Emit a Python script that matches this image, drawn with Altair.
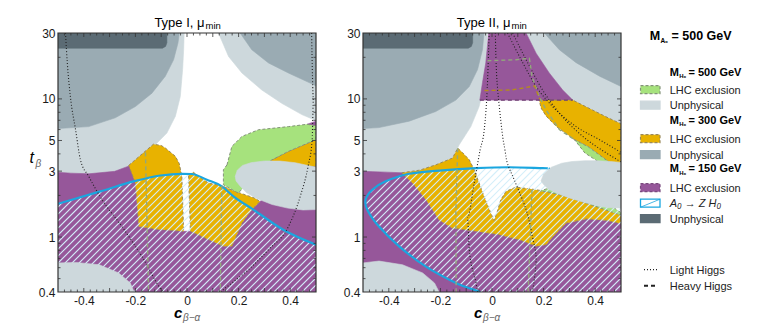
import math
import altair as alt
import pandas as pd

# ---------------------------------------------------------------- layout
W, H = 258, 259
FONT = "Liberation Sans"

# ---------------------------------------------------------------- axes
X_DOMAIN = [-0.5, 0.5]
Y_DOMAIN = [0.4, 30]
X_LABELS = [-0.4, -0.2, 0.0, 0.2, 0.4]
Y_LABELS = [0.4, 1, 3, 5, 10, 30]
X_TICKS_MAJOR = [-0.4, -0.3, -0.2, -0.1, 0.0, 0.1, 0.2, 0.3, 0.4]
X_TICKS_MINOR = [-0.475, -0.45, -0.425, -0.375, -0.35, -0.325, -0.275, -0.25, -0.225,
                 -0.175, -0.15, -0.125, -0.075, -0.05, -0.025, 0.025, 0.05, 0.075,
                 0.125, 0.15, 0.175, 0.225, 0.25, 0.275, 0.325, 0.35, 0.375,
                 0.425, 0.45, 0.475]
Y_TICKS_MAJOR = [1, 3, 5, 10]
Y_TICKS_MINOR = [0.5, 0.6, 0.7, 0.8, 0.9, 2, 4, 6, 7, 8, 9, 20]

# ---------------------------------------------------------------- colours
C_L500 = "#cdd8dc"
C_M300 = "#9aabb3"
C_D150 = "#5b6b74"
C_PUR = "#96579a"
C_ORA = "#e8b200"
C_GRN = "#a6e27d"
C_CYAN = "#1aa6df"
C_HATCH = "#d4eef9"
S_ORA = "#9a8a5c"
S_GRN = "#84937a"
S_PUR = "#6f3f73"
S_HEAVY_G = "#92a87c"
S_HEAVY_O = "#b48c1c"

# ================================================================ Type I
P1_L500_LEFT_C = [-0.5, -0.011, -0.013, -0.017, -0.026, -0.045, -0.078, -0.123, -0.17, -0.22, -0.28, -0.38, -0.45, -0.5]
P1_L500_LEFT_T = [30, 30, 22.7, 16.3, 10.4, 7.5, 5.66, 4.66, 3.9, 3.3, 2.99, 2.87, 2.9, 2.94]
P1_L500_RIGHT_C = [0.122, 0.161, 0.213, 0.29, 0.367, 0.445, 0.49, 0.5, 0.5]
P1_L500_RIGHT_T = [30, 20.3, 15.4, 11.6, 9.3, 7.7, 7.1, 7.0, 30]
P1_M300_LEFT_C = [-0.5, -0.03, -0.035, -0.052, -0.084, -0.136, -0.2, -0.278, -0.381, -0.5]
P1_M300_LEFT_T = [30, 30, 25.4, 19.2, 14.6, 11.0, 8.8, 7.3, 6.3, 6.1]
P1_M300_RIGHT_C = [0.206, 0.251, 0.316, 0.393, 0.49, 0.5, 0.5]
P1_M300_RIGHT_T = [30, 22.7, 18.2, 15.4, 12.7, 12.4, 30]
P1_D150_C = [-0.5, -0.078, -0.078, -0.083, -0.095, -0.5]
P1_D150_T = [30, 30, 25.5, 24.0, 23.3, 23.3]
P1_PUR_C = [-0.5, -0.5, -0.45, -0.38, -0.28, -0.219, -0.2, -0.187, -0.123, -0.013, 0.013, 0.141, 0.174, 0.213, 0.251, 0.283, 0.35, 0.42, 0.5, 0.5]
P1_PUR_T = [0.4, 2.94, 2.9, 2.87, 2.99, 3.3, 2.46, 1.19, 1.14, 1.10, 1.10, 0.857, 0.857, 1.26, 1.58, 1.81, 2.3, 2.9, 3.3, 0.4]
P1_PUR_TIP_C = [0.465, 0.5, 0.5]
P1_PUR_TIP_T = [6.55, 6.9, 5.4]
P1_ORA_A_C = [-0.226, -0.13, -0.1, -0.084, -0.045, -0.03, -0.02, -0.013, -0.123, -0.187, -0.2]
P1_ORA_A_T = [3.3, 4.7, 4.6, 4.41, 3.84, 3.4, 2.75, 1.10, 1.14, 1.19, 2.46]
P1_ORA_B_C = [0.006, 0.025, 0.045, 0.083, 0.135, 0.187, 0.264, 0.283, 0.251, 0.213, 0.174, 0.141, 0.013]
P1_ORA_B_T = [2.83, 2.94, 2.75, 2.46, 2.35, 2.14, 1.91, 1.81, 1.58, 1.26, 0.857, 0.857, 1.10]
P1_ORA_C_C = [0.3, 0.329, 0.393, 0.49, 0.5, 0.5, 0.41, 0.3]
P1_ORA_C_T = [3.4, 3.62, 4.17, 4.98, 5.05, 3.24, 3.2, 3.1]
P1_GRN_C = [0.155, 0.174, 0.213, 0.277, 0.393, 0.465, 0.5, 0.5, 0.49, 0.393, 0.329, 0.28, 0.22, 0.199, 0.141, 0.141]
P1_GRN_T = [3.33, 4.53, 5.35, 5.98, 6.3, 6.55, 6.4, 5.05, 4.98, 4.17, 3.62, 3.2, 2.3, 2.08, 2.39, 3.07]
P1_ELL_C = [0.187, 0.195, 0.215, 0.25, 0.3, 0.36, 0.42, 0.5, 0.5, 0.45, 0.39, 0.33, 0.27, 0.23, 0.205, 0.19]
P1_ELL_T = [2.75, 3.05, 3.3, 3.46, 3.55, 3.55, 3.45, 3.2, 1.58, 1.57, 1.62, 1.72, 1.9, 2.1, 2.35, 2.55]
P1_BL_C = [-0.5, -0.43, -0.34, -0.265, -0.22, -0.205, -0.5]
P1_BL_T = [0.65, 0.655, 0.63, 0.55, 0.465, 0.4, 0.4]
P1_CYAN_C = [-0.5, -0.336, -0.207, -0.103, -0.019, 0.018, 0.077, 0.135, 0.18, 0.257, 0.373, 0.5]
P1_CYAN_T = [1.74, 2.14, 2.53, 2.79, 2.87, 2.86, 2.6, 2.33, 1.97, 1.58, 1.13, 0.88]
P1_DOT_L_C = [-0.471, -0.464, -0.452, -0.432, -0.413, -0.381, -0.329, -0.252, -0.174, -0.097, -0.092]
P1_DOT_L_T = [30, 18.3, 10.4, 6, 3.62, 2.75, 1.86, 1.19, 0.72, 0.41, 0.4]
P1_DOT_R_C = [0.483, 0.49, 0.485, 0.47, 0.44, 0.393, 0.316, 0.238, 0.174, 0.129]
P1_DOT_R_T = [30, 10, 5, 3.3, 2.0, 1.19, 0.81, 0.58, 0.465, 0.4]
P1_DASH_A_C = [-0.161, -0.149]
P1_DASH_A_T = [4.1, 0.4]
P1_DASH_B_C = [0.135, 0.129]
P1_DASH_B_T = [2.35, 0.4]

# ================================================================ Type II
P2_L500_LEFT_C = [-0.5, -0.018, -0.022, -0.031, -0.05, -0.082, -0.127, -0.153, -0.218, -0.28, -0.35, -0.41, -0.5]
P2_L500_LEFT_T = [30, 30, 18.3, 12.3, 8.8, 6.3, 4.66, 3.73, 3.33, 3.05, 2.92, 2.95, 2.99]
P2_L500_RIGHT_C = [0.132, 0.171, 0.222, 0.274, 0.313, 0.39, 0.45, 0.5, 0.5]
P2_L500_RIGHT_T = [30, 21.4, 15.4, 11.6, 9.8, 8.3, 7.3, 6.6, 30]
P2_M300_LEFT_C = [-0.5, -0.031, -0.037, -0.056, -0.088, -0.14, -0.218, -0.321, -0.438, -0.5]
P2_M300_LEFT_T = [30, 30, 22.7, 16.3, 12.3, 9.8, 8.1, 6.9, 6.2, 6.1]
P2_M300_RIGHT_C = [0.203, 0.261, 0.326, 0.417, 0.5, 0.5]
P2_M300_RIGHT_T = [30, 22.7, 18.3, 14.6, 12.3, 30]
P2_D150_C = [-0.5, -0.075, -0.075, -0.08, -0.092, -0.5]
P2_D150_T = [30, 30, 25.5, 24.0, 23.3, 23.3]
P2_PUR_TOP_C = [-0.013, 0.132, 0.171, 0.222, 0.274, 0.313, -0.047, -0.037, -0.024]
P2_PUR_TOP_T = [30, 30, 21.4, 15.4, 11.6, 9.8, 9.8, 13.1, 18.3]
P2_PUR_EDGE_C = [-0.047, 0.313]
P2_PUR_EDGE_T = [9.8, 9.8]
P2_PUR_C = [-0.5, -0.5, -0.41, -0.35, -0.308, -0.256, -0.205, -0.153, -0.062, 0.028, 0.106, 0.171, 0.21, 0.235, 0.287, 0.365, 0.443, 0.5, 0.5]
P2_PUR_T = [0.4, 2.99, 2.95, 2.92, 2.46, 1.86, 1.33, 1.16, 1.10, 1.04, 0.955, 0.857, 0.88, 1.0, 1.26, 1.35, 1.32, 1.25, 0.4]
P2_ORA_C = [-0.35, -0.28, -0.218, -0.153, -0.133, -0.115, -0.088, -0.069, -0.05, -0.031, -0.005, 0.008, 0.021, 0.034, 0.054, 0.093, 0.157, 0.21, 0.287, 0.39, 0.5, 0.5, 0.443, 0.365, 0.287, 0.235, 0.21, 0.171, 0.106, 0.028, -0.062, -0.153, -0.205, -0.256, -0.308]
P2_ORA_T = [2.92, 3.05, 3.33, 3.73, 4.4, 4.1, 3.62, 3.07, 2.46, 1.97, 1.5, 1.32, 1.54, 1.86, 2.14, 2.3, 2.22, 2.14, 1.97, 1.7, 1.44, 1.25, 1.32, 1.35, 1.26, 1.0, 0.88, 0.857, 0.955, 1.04, 1.10, 1.16, 1.33, 1.86, 2.46]
P2_ORA_BAND_C = [0.183, 0.313, 0.39, 0.45, 0.5, 0.5, 0.45, 0.373, 0.32, 0.25, 0.21, 0.19]
P2_ORA_BAND_T = [9.8, 9.8, 8.3, 7.3, 6.6, 3.15, 3.53, 4.5, 5.06, 6.3, 7.5, 8.6]
P2_GRN_UP_C = [0.32, 0.373, 0.45, 0.5, 0.5, 0.45, 0.41, 0.36]
P2_GRN_UP_T = [5.06, 4.5, 3.53, 3.15, 2.95, 3.07, 3.53, 4.06]
P2_GRN_LOW_C = [0.183, 0.222, 0.287, 0.39, 0.45, 0.5, 0.5, 0.39, 0.287, 0.21]
P2_GRN_LOW_T = [2.14, 2.27, 2.3, 2.05, 1.75, 1.5, 1.44, 1.7, 1.97, 2.14]
P2_ELL_C = [0.19, 0.2, 0.23, 0.27, 0.31, 0.36, 0.41, 0.46, 0.5, 0.5, 0.45, 0.41, 0.35, 0.3, 0.25, 0.22, 0.2]
P2_ELL_T = [2.55, 2.85, 3.2, 3.42, 3.52, 3.57, 3.57, 3.52, 3.47, 1.62, 1.63, 1.68, 1.8, 1.92, 2.08, 2.22, 2.4]
P2_BL_C = [-0.5, -0.438, -0.347, -0.269, -0.223, -0.205, -0.5]
P2_BL_T = [0.65, 0.67, 0.63, 0.55, 0.465, 0.4, 0.4]
P2_CYAN_C = [0.22, 0.196, 0.067, -0.062, -0.192, -0.321, -0.412, -0.464, -0.49, -0.483, -0.438, -0.36, -0.256, -0.14, -0.062, -0.045]
P2_CYAN_T = [3.15, 3.15, 3.2, 3.15, 3.04, 2.87, 2.53, 2.2, 1.86, 1.57, 1.19, 0.857, 0.61, 0.465, 0.41, 0.4]
P2_DOT_A_C = [-0.011, -0.017, -0.03, -0.046, -0.069, -0.095, -0.088, -0.062, -0.056]
P2_DOT_A_T = [30, 13.8, 6.0, 4.28, 2.46, 1.39, 0.81, 0.465, 0.4]
P2_DOT_B_C = [0.013, 0.019, 0.038, 0.05, 0.06, 0.086, 0.132, 0.157, 0.171, 0.157]
P2_DOT_B_T = [30, 13.8, 6.0, 4.3, 3.4, 2.6, 1.58, 1.0, 0.685, 0.4]
P2_DOT_C_C = [0.06, 0.119, 0.171, 0.235, 0.326, 0.417, 0.5]
P2_DOT_C_T = [30, 18.3, 12.3, 8.8, 6.3, 5.06, 4.1]
P2_DOT_D_C = [0.08, 0.138, 0.196, 0.261, 0.352, 0.443, 0.5]
P2_DOT_D_T = [30, 18.3, 11.6, 7.9, 5.35, 4.06, 3.5]
P2_DASH_A_C = [-0.133, -0.14, -0.139]
P2_DASH_A_T = [4.4, 1.5, 0.4]
P2_DASH_B_C = [0.155, 0.14]
P2_DASH_B_T = [2.2, 0.4]
P2_DASH_G_C = [-0.018, 0.093, 0.145, 0.155, 0.183, 0.21, 0.261, 0.32]
P2_DASH_G_T = [18.9, 19.2, 19.7, 14.6, 10.4, 8.3, 6.0, 5.06]
P2_DASH_O_C = [-0.029, 0.075, 0.165, 0.185]
P2_DASH_O_T = [11.5, 11.6, 12.4, 10.0]

# ================================================================ legend
LEG_TITLE = ("M", "A₀", "= 500 GeV")
LEG_HEADERS = ["= 500 GeV", "= 300 GeV", "= 150 GeV"]
LEG_ITEMS = ["LHC exclusion", "Unphysical", "LHC exclusion", "Unphysical", "LHC exclusion", "A₀ → Z H₀", "Unphysical"]
LEG_ITEM_FILL = [C_GRN, C_L500, C_ORA, C_M300, C_PUR, "#ffffff", C_D150]
LEG_ITEM_STROKE = [S_GRN, C_L500, S_ORA, C_M300, "#7a4a7e", C_CYAN, C_D150]
LEG_LINES = ["Light Higgs", "Heavy Higgs"]
# positions (layout, pixels inside legend panel)
LEG_HEADER_Y = [42.5, 90.5, 139.0]
LEG_ITEM_Y = [56.7, 72.2, 105.7, 121.7, 154.7, 170.2, 185.7]
LEG_LINE_Y = [236.7, 252.7]

# ---------------------------------------------------------------- scales
XS = alt.Scale(domain=X_DOMAIN, nice=False, zero=False)
YS = alt.Scale(type="log", domain=Y_DOMAIN, nice=False)
XAX = alt.Axis(values=X_LABELS, title=None, grid=False, ticks=False, domain=False,
               labelExpr="datum.value == 0 ? '0' : replace(format(datum.value, '.1f'), '\u2212', '-')",
               labelPadding=3, labelFontSize=12, labelColor="#1a1a1a", labelFont=FONT)
YAX = alt.Axis(values=Y_LABELS, title=None, grid=False, ticks=False, domain=False,
               labelExpr="format(datum.value, '~g')", labelPadding=3,
               labelFontSize=12, labelColor="#1a1a1a", labelFont=FONT)


def xy():
    return dict(x=alt.X("c:Q", scale=XS, axis=XAX), y=alt.Y("t:Q", scale=YS, axis=YAX))


def poly(c, t, fill, stroke=None, dash=None, sw=1.0):
    df = pd.DataFrame({"c": c, "t": t, "i": list(range(len(c)))})
    mk = dict(fill=fill, interpolate="linear-closed", clip=True)
    if stroke:
        mk.update(stroke=stroke, strokeWidth=sw, strokeDash=dash or [3, 2])
    else:
        mk.update(stroke=fill, strokeWidth=0.6)
    return alt.Chart(df).mark_line(**mk).encode(order="i:Q", **xy())


def pline(c, t, color, dash=None, sw=1.0, interp="monotone"):
    df = pd.DataFrame({"c": c, "t": t, "i": list(range(len(c)))})
    mk = dict(stroke=color, strokeWidth=sw, clip=True, interpolate=interp)
    if dash:
        mk["strokeDash"] = dash
    return alt.Chart(df).mark_line(**mk).encode(order="i:Q", **xy())


def hatch(c, t, spacing=7.0):
    l0, l1 = math.log10(Y_DOMAIN[0]), math.log10(Y_DOMAIN[1])
    pts = [((ci + 0.5) * W, (math.log10(ti) - l0) / (l1 - l0) * H) for ci, ti in zip(c, t)]
    rows, sid, n = [], 0, len(pts)
    k = -W
    while k < H:
        xs = []
        for j in range(n):
            (u1, v1), (u2, v2) = pts[j], pts[(j + 1) % n]
            f1, f2 = v1 - u1 - k, v2 - u2 - k
            if (f1 > 0) != (f2 > 0):
                s = f1 / (f1 - f2)
                xs.append(u1 + s * (u2 - u1))
        xs.sort()
        for a, b in zip(xs[0::2], xs[1::2]):
            for o, u in enumerate((a, b)):
                v = u + k
                rows.append({"c": u / W - 0.5, "t": 10 ** (l0 + v / H * (l1 - l0)), "g": sid, "i": o})
            sid += 1
        k += spacing
    df = pd.DataFrame(rows)
    return alt.Chart(df).mark_line(stroke=C_HATCH, strokeWidth=1.1, clip=True).encode(
        detail="g:N", order="i:Q", **xy())


def txt(text, x, y, size, color="#000", align="left", style="normal", weight="normal", dy=0):
    return alt.Chart(pd.DataFrame({"a": [0]})).mark_text(
        text=text, align=align, baseline="alphabetic", fontSize=size, fontStyle=style,
        fontWeight=weight, color=color, font=FONT, dy=dy).encode(x=alt.value(x), y=alt.value(y))


def frame_and_ticks():
    lay = []
    for vals, ln in ((Y_TICKS_MAJOR, 4), (Y_TICKS_MINOR, 2.5)):
        df = pd.DataFrame({"t": vals})
        lay.append(alt.Chart(df).mark_rule(color="#333", strokeWidth=0.8).encode(
            y=alt.Y("t:Q", scale=YS, axis=YAX), x=alt.value(0), x2=alt.value(ln)))
        lay.append(alt.Chart(df).mark_rule(color="#333", strokeWidth=0.8).encode(
            y=alt.Y("t:Q", scale=YS, axis=YAX), x=alt.value(W - ln), x2=alt.value(W)))
    for vals, ln in ((X_TICKS_MAJOR, 4), (X_TICKS_MINOR, 2.5)):
        df = pd.DataFrame({"c": vals})
        lay.append(alt.Chart(df).mark_rule(color="#333", strokeWidth=0.8).encode(
            x=alt.X("c:Q", scale=XS, axis=XAX), y=alt.value(0), y2=alt.value(ln)))
        lay.append(alt.Chart(df).mark_rule(color="#333", strokeWidth=0.8).encode(
            x=alt.X("c:Q", scale=XS, axis=XAX), y=alt.value(H - ln), y2=alt.value(H)))
    lay.append(alt.Chart(pd.DataFrame({"a": [0]})).mark_rect(
        fillOpacity=0, stroke="#333", strokeWidth=1.2).encode(
        x=alt.value(0), x2=alt.value(W), y=alt.value(0), y2=alt.value(H)))
    return lay


# ---------------------------------------------------------------- panel 1
p1_layers = [
    poly(P1_L500_LEFT_C, P1_L500_LEFT_T, C_L500),
    poly(P1_L500_RIGHT_C, P1_L500_RIGHT_T, C_L500),
    poly(P1_M300_LEFT_C, P1_M300_LEFT_T, C_M300),
    poly(P1_M300_RIGHT_C, P1_M300_RIGHT_T, C_M300),
    poly(P1_D150_C, P1_D150_T, C_D150),
    poly(P1_PUR_C, P1_PUR_T, C_PUR),
    poly(P1_PUR_TIP_C, P1_PUR_TIP_T, C_PUR),
    poly(P1_ORA_A_C, P1_ORA_A_T, C_ORA, S_ORA),
    poly(P1_ORA_B_C, P1_ORA_B_T, C_ORA, S_ORA),
    poly(P1_ORA_C_C, P1_ORA_C_T, C_ORA, S_ORA),
    poly(P1_GRN_C, P1_GRN_T, C_GRN, S_GRN),
    hatch(P1_CYAN_C + [0.5, -0.5], P1_CYAN_T + [0.4, 0.4]),
    poly(P1_ELL_C, P1_ELL_T, C_L500),
    poly(P1_BL_C, P1_BL_T, C_L500),
    pline(P1_CYAN_C, P1_CYAN_T, C_CYAN, sw=2.2),
    pline(P1_DOT_L_C, P1_DOT_L_T, "#222", dash=[1, 2], sw=1.1),
    pline(P1_DOT_R_C, P1_DOT_R_T, "#222", dash=[1, 2], sw=1.1),
    pline(P1_DASH_A_C, P1_DASH_A_T, S_HEAVY_G, dash=[4, 3], sw=1.4, interp="linear"),
    pline(P1_DASH_B_C, P1_DASH_B_T, S_HEAVY_G, dash=[4, 3], sw=1.4, interp="linear"),
] + frame_and_ticks() + [
    txt("Type I, μ", 146.5, -6.3, 13, align="right"),
    txt("min", 147.5, -3.6, 9.5),
    txt("c", 116, 284.5, 15, style="italic", weight="bold"),
    txt("β−α", 125, 287.5, 10, color="#666", style="italic"),
    txt("t", -28.5, 129.7, 16, style="italic"),
    txt("β", -22.5, 133.5, 10, color="#666", style="italic"),
]
p1 = alt.layer(*p1_layers).properties(width=W, height=H)

# ---------------------------------------------------------------- panel 2
p2_layers = [
    poly(P2_L500_LEFT_C, P2_L500_LEFT_T, C_L500),
    poly(P2_L500_RIGHT_C, P2_L500_RIGHT_T, C_L500),
    poly(P2_M300_LEFT_C, P2_M300_LEFT_T, C_M300),
    poly(P2_M300_RIGHT_C, P2_M300_RIGHT_T, C_M300),
    poly(P2_D150_C, P2_D150_T, C_D150),
    poly(P2_PUR_TOP_C, P2_PUR_TOP_T, C_PUR),
    poly(P2_PUR_C, P2_PUR_T, C_PUR),
    poly(P2_ORA_C, P2_ORA_T, C_ORA, S_ORA),
    poly(P2_ORA_BAND_C, P2_ORA_BAND_T, C_ORA, S_ORA),
    poly(P2_GRN_UP_C, P2_GRN_UP_T, C_GRN, S_GRN),
    poly(P2_GRN_LOW_C, P2_GRN_LOW_T, C_GRN, S_GRN),
    hatch([0.5] + P2_CYAN_C + [0.5], [3.15] + P2_CYAN_T + [0.4]),
    poly(P2_ELL_C, P2_ELL_T, C_L500),
    poly(P2_BL_C, P2_BL_T, C_L500),
    pline(P2_PUR_EDGE_C, P2_PUR_EDGE_T, S_PUR, dash=[4, 3], sw=1.3, interp="linear"),
    pline(P2_CYAN_C, P2_CYAN_T, C_CYAN, sw=2.2, interp="cardinal"),
    pline(P2_DOT_A_C, P2_DOT_A_T, "#222", dash=[1, 2], sw=1.1),
    pline(P2_DOT_B_C, P2_DOT_B_T, "#222", dash=[1, 2], sw=1.1, interp="cardinal"),
    pline(P2_DOT_C_C, P2_DOT_C_T, "#222", dash=[1, 2], sw=1.1),
    pline(P2_DOT_D_C, P2_DOT_D_T, "#222", dash=[1, 2], sw=1.1),
    pline(P2_DASH_A_C, P2_DASH_A_T, S_HEAVY_G, dash=[4, 3], sw=1.4, interp="linear"),
    pline(P2_DASH_B_C, P2_DASH_B_T, S_HEAVY_G, dash=[4, 3], sw=1.4, interp="linear"),
    pline(P2_DASH_G_C, P2_DASH_G_T, S_HEAVY_G, dash=[4, 3], sw=1.4, interp="linear"),
    pline(P2_DASH_O_C, P2_DASH_O_T, S_HEAVY_O, dash=[4, 3], sw=1.4, interp="linear"),
] + frame_and_ticks() + [
    txt("Type II, μ", 147.5, -6.3, 13, align="right"),
    txt("min", 148.5, -3.6, 9.5),
    txt("c", 111, 284.5, 15, style="italic", weight="bold"),
    txt("β−α", 120, 287.5, 10, color="#666", style="italic"),
]
p2 = alt.layer(*p2_layers).properties(width=W, height=H)

# ---------------------------------------------------------------- legend panel
LW = 112
LX = alt.Scale(domain=[0, LW])
LY = alt.Scale(domain=[0, H], reverse=True)

sw_df = pd.DataFrame({
    "label": LEG_ITEMS, "fill": LEG_ITEM_FILL, "stroke": LEG_ITEM_STROKE,
    "x0": [0.5] * 7, "x1": [20] * 7,
    "y0": [y - 4 for y in LEG_ITEM_Y], "y1": [y + 4 for y in LEG_ITEM_Y],
    "tx": [29.7] * 7, "ty": [y + 4 for y in LEG_ITEM_Y],
    "dash": ["d", "s", "d", "s", "d", "s", "s"],
})
hd_df = pd.DataFrame({"txt": LEG_HEADERS, "y": LEG_HEADER_Y})

leg_layers = [
    alt.Chart(sw_df[sw_df.dash == "s"]).mark_rect(strokeWidth=1.3).encode(
        x=alt.X("x0:Q", scale=LX, axis=None), x2="x1:Q",
        y=alt.Y("y0:Q", scale=LY, axis=None), y2="y1:Q",
        fill=alt.Fill("fill:N", scale=None), stroke=alt.Stroke("stroke:N", scale=None)),
    alt.Chart(sw_df[sw_df.dash == "d"]).mark_rect(strokeWidth=1.2, strokeDash=[3, 2]).encode(
        x=alt.X("x0:Q", scale=LX, axis=None), x2="x1:Q",
        y=alt.Y("y0:Q", scale=LY, axis=None), y2="y1:Q",
        fill=alt.Fill("fill:N", scale=None), stroke=alt.Stroke("stroke:N", scale=None)),
    alt.Chart(sw_df[sw_df.fill == "#ffffff"]).mark_rule(color=C_CYAN, strokeWidth=0.8).encode(
        x=alt.X("x0:Q", scale=LX, axis=None), x2="x1:Q",
        y=alt.Y("y1:Q", scale=LY, axis=None), y2="y0:Q"),
    alt.Chart(sw_df[sw_df.fill != "#ffffff"]).mark_text(
        align="left", baseline="alphabetic", fontSize=11, font=FONT, color="#222").encode(
        x=alt.X("tx:Q", scale=LX, axis=None), y=alt.Y("ty:Q", scale=LY, axis=None), text="label:N"),
    alt.Chart(sw_df[sw_df.fill == "#ffffff"]).mark_text(
        align="left", baseline="alphabetic", fontSize=11, font=FONT, color="#222", fontStyle="italic").encode(
        x=alt.X("tx:Q", scale=LX, axis=None), y=alt.Y("ty:Q", scale=LY, axis=None), text="label:N"),
    # headers
    alt.Chart(hd_df).mark_text(align="left", baseline="alphabetic", fontSize=11, fontWeight="bold",
                               font=FONT, color="#000", text="M").encode(
        x=alt.value(29.7), y=alt.Y("y:Q", scale=LY, axis=None)),
    alt.Chart(hd_df).mark_text(align="left", baseline="alphabetic", fontSize=6, fontWeight="bold",
                               font=FONT, color="#000", text="H₀", dy=2.5).encode(
        x=alt.value(39.2), y=alt.Y("y:Q", scale=LY, axis=None)),
    alt.Chart(hd_df).mark_text(align="left", baseline="alphabetic", fontSize=11, fontWeight="bold",
                               font=FONT, color="#000").encode(
        x=alt.value(48.5), y=alt.Y("y:Q", scale=LY, axis=None), text="txt:N"),
    # top title
    txt(LEG_TITLE[0], 9.7, 7.4, 12.5, weight="bold"),
    txt(LEG_TITLE[1], 20.4, 7.4, 6.5, weight="bold", dy=2.5),
    txt(LEG_TITLE[2], 31.5, 7.4, 12.5, weight="bold"),
    # line samples
    alt.Chart(pd.DataFrame({"y": [LEG_LINE_Y[0]]})).mark_rule(color="#222", strokeWidth=1.2, strokeDash=[1, 2]).encode(
        x=alt.value(4), x2=alt.value(18), y=alt.Y("y:Q", scale=LY, axis=None)),
    alt.Chart(pd.DataFrame({"y": [LEG_LINE_Y[1]]})).mark_rule(color="#222", strokeWidth=2, strokeDash=[4, 3]).encode(
        x=alt.value(4), x2=alt.value(18), y=alt.Y("y:Q", scale=LY, axis=None)),
    alt.Chart(pd.DataFrame({"label": LEG_LINES, "y": [v + 4 for v in LEG_LINE_Y]})).mark_text(
        align="left", baseline="alphabetic", fontSize=11, font=FONT, color="#222").encode(
        x=alt.value(29.7), y=alt.Y("y:Q", scale=LY, axis=None), text="label:N"),
]
legend = alt.layer(*leg_layers).properties(width=LW, height=H)

chart = alt.hconcat(alt.hconcat(p1, p2, spacing=26), legend, spacing=17).configure(
    font=FONT, padding={"left": 21, "top": 8, "right": 0, "bottom": 0}
).configure_view(strokeWidth=0)

chart.save("out.html", embed_options={"renderer": "svg", "actions": False})
